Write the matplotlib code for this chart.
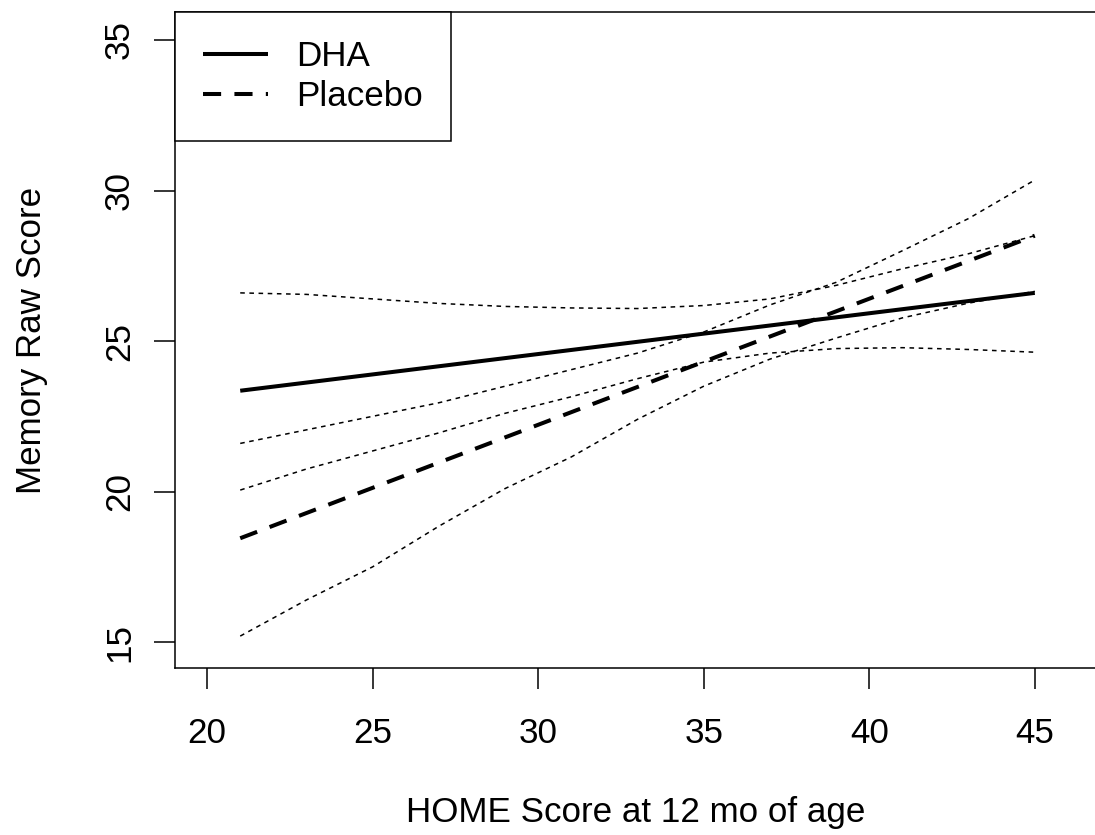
import matplotlib
matplotlib.use('Agg')
import matplotlib.pyplot as plt
from matplotlib.lines import Line2D

plt.rcParams['font.family'] = ['Liberation Sans', 'DejaVu Sans']

# fitted lines (straight, endpoints)
fit_x = [21, 45]
dha_fit = [23.35, 26.6]
placebo_fit = [18.45, 28.5]

# confidence bands
band_x = [21, 23, 25, 27, 29, 31, 33, 35, 37, 39, 41, 43, 45]
dha_upper = [26.6, 26.55, 26.4, 26.25, 26.15, 26.1, 26.08, 26.18, 26.4, 26.85, 27.4, 27.9, 28.5]
dha_lower = [20.05, 20.75, 21.35, 21.95, 22.6, 23.15, 23.75, 24.3, 24.6, 24.75, 24.78, 24.72, 24.63]
placebo_upper = [21.6, 22.05, 22.5, 22.95, 23.5, 24.05, 24.6, 25.3, 26.2, 26.95, 28.0, 29.07, 30.35]
placebo_lower = [15.2, 16.4, 17.5, 18.85, 20.1, 21.15, 22.4, 23.5, 24.4, 25.1, 25.77, 26.26, 26.65]

x_ticks = [20, 25, 30, 35, 40, 45]
y_ticks = [15, 20, 25, 30, 35]

fs = 25.2

fig = plt.figure(figsize=(10.95, 8.35), dpi=100)
ax = fig.add_axes([175 / 1095, 167 / 835, 926 / 1095, 656 / 835])

solid_kw = dict(color='black', lw=2.9, solid_capstyle='butt')
dash_kw = dict(color='black', lw=2.9, dashes=(4.5, 3.3), dash_capstyle='butt')
dot_kw = dict(color='black', lw=1.1, dashes=(3, 3))

ax.plot(fit_x, dha_fit, **solid_kw)
ax.plot(fit_x, placebo_fit, **dash_kw)
ax.plot(band_x, dha_upper, **dot_kw)
ax.plot(band_x, dha_lower, **dot_kw)
ax.plot(band_x, placebo_upper, **dot_kw)
ax.plot(band_x, placebo_lower, **dot_kw)

ax.set_xlim(19.03, 47.0)
ax.set_ylim(14.14, 35.93)
ax.set_xticks(x_ticks)
ax.set_yticks(y_ticks)
ax.tick_params(axis='both', length=15, width=1.1, labelsize=fs, direction='out')
ax.tick_params(axis='x', pad=20)
ax.tick_params(axis='y', pad=13)
for lab in ax.get_yticklabels():
    lab.set_rotation(90)
    lab.set_va('center')
for s in ax.spines.values():
    s.set_linewidth(1.1)

ax.set_xlabel('HOME Score at 12 mo of age', fontsize=fs)
ax.set_ylabel('Memory Raw Score', fontsize=fs)
ax.xaxis.set_label_coords(0.497, -0.195)
ax.yaxis.set_label_coords(-0.137, 0.5)

handles = [Line2D([], [], **solid_kw), Line2D([], [], **dash_kw)]
leg = ax.legend(handles, ['DHA', 'Placebo'], loc='upper left', fontsize=fs,
                borderaxespad=0, fancybox=False, framealpha=1, edgecolor='black',
                borderpad=0.8, labelspacing=0.2, handlelength=1.85, handletextpad=0.8)
leg.get_frame().set_linewidth(1.1)

fig.savefig('out.png', dpi=100)
